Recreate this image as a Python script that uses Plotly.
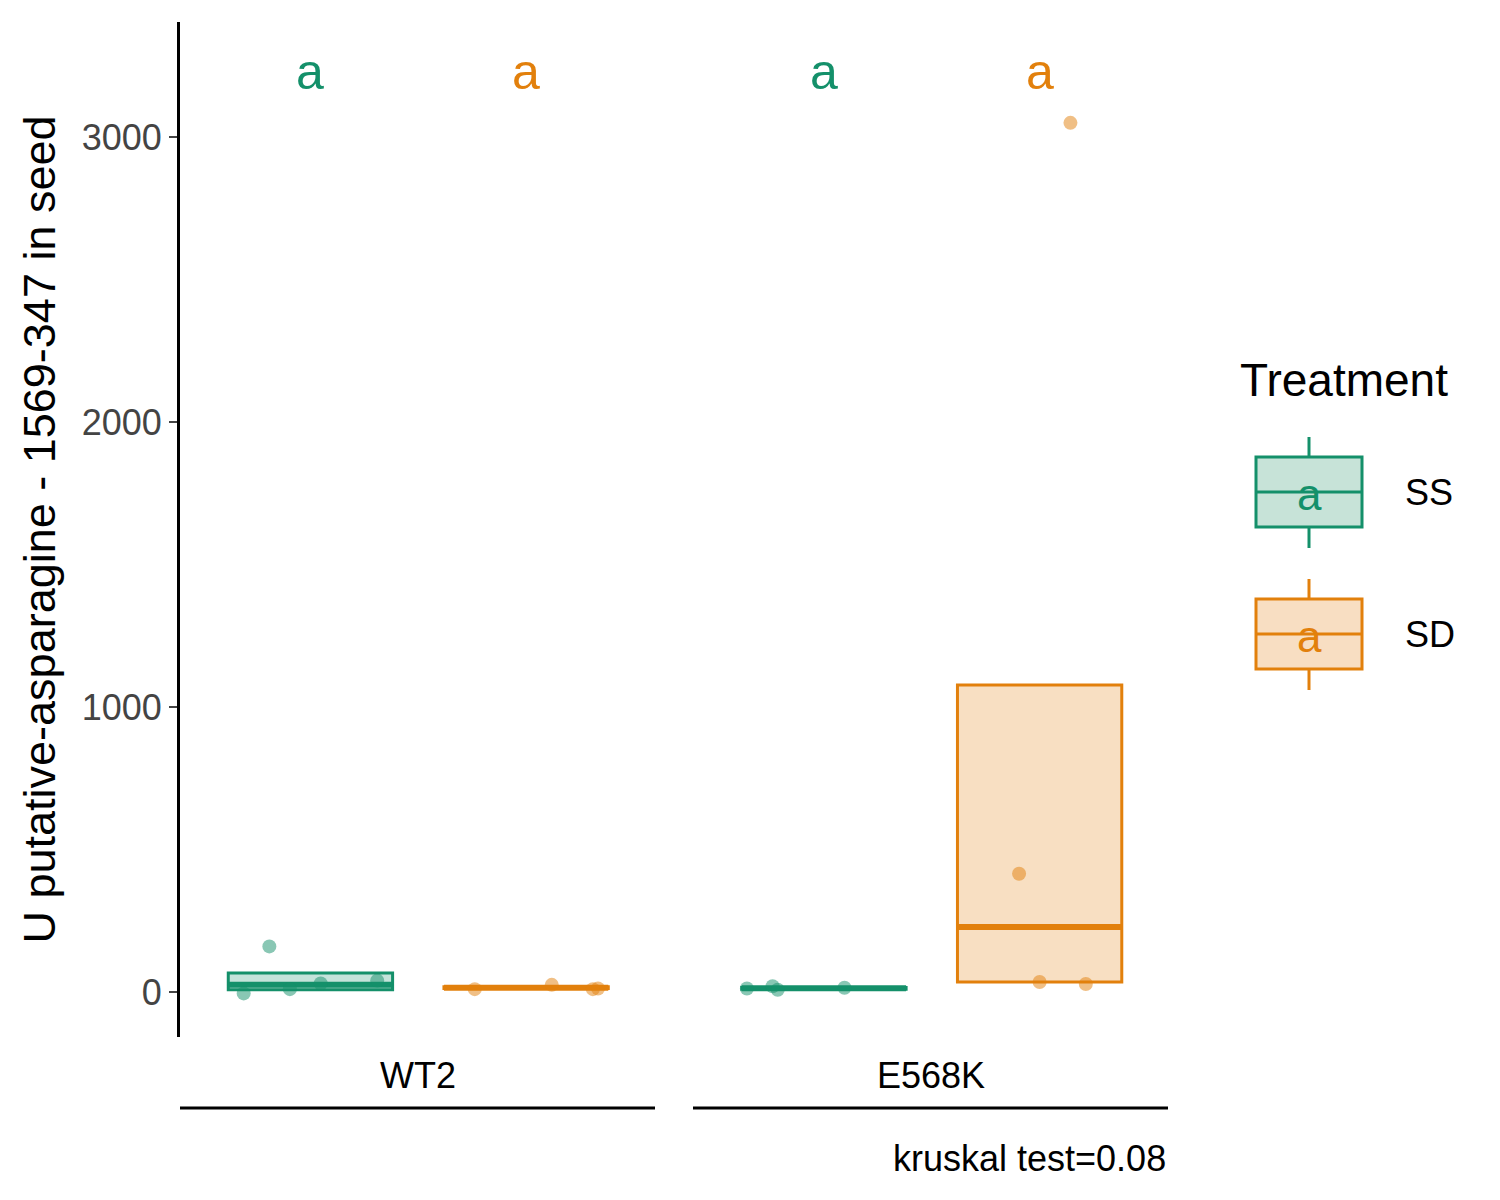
import plotly.graph_objects as go

groups = ["WT2", "E568K"]
treatments = ["SS", "SD"]
colors = {"SS": "#14906A", "SD": "#E2800C"}
fills = {"SS": "rgba(20,144,106,0.25)", "SD": "rgba(226,128,12,0.25)"}

# box stats per (group, treatment): q1, median, q3
box_q1 = {("WT2", "SS"): 8, ("WT2", "SD"): 12, ("E568K", "SS"): 10, ("E568K", "SD"): 35}
box_med = {("WT2", "SS"): 25, ("WT2", "SD"): 15, ("E568K", "SS"): 13, ("E568K", "SD"): 228}
box_q3 = {("WT2", "SS"): 67, ("WT2", "SD"): 18, ("E568K", "SS"): 16, ("E568K", "SD"): 1077}

# jittered points: x offset within box, value
pts = {
    ("WT2", "SS"): ([-0.08, 0.02, -0.13, -0.04, 0.13], [160, 30, -5, 10, 40]),
    ("WT2", "SD"): ([-0.1, 0.05, 0.13, 0.14], [10, 25, 10, 12]),
    ("E568K", "SS"): ([-0.15, -0.1, -0.09, 0.04], [12, 20, 8, 15]),
    ("E568K", "SD"): ([0.06, -0.04, 0.09, 0.0], [3050, 415, 28, 35]),
}

offsets = {"SS": -0.21, "SD": 0.21}
gpos = {"WT2": 1, "E568K": 2}
BW = 0.32

fig = go.Figure()
for g in groups:
    for t in treatments:
        x = gpos[g] + offsets[t]
        k = (g, t)
        fig.add_trace(go.Box(
            x=[x], q1=[box_q1[k]], median=[box_med[k]], q3=[box_q3[k]],
            lowerfence=[box_q1[k]], upperfence=[box_q3[k]],
            width=BW, line=dict(color=colors[t], width=3), fillcolor=fills[t],
            boxpoints=False, whiskerwidth=0, showlegend=False))
        fig.add_trace(go.Scatter(
            x=[x - BW / 2, x + BW / 2], y=[box_med[k], box_med[k]], mode="lines",
            line=dict(color=colors[t], width=6), showlegend=False))
        dx, vals = pts[k]
        fig.add_trace(go.Scatter(
            x=[x + d for d in dx], y=vals, mode="markers",
            marker=dict(color=colors[t], size=14, opacity=0.5),
            showlegend=False))
        fig.add_annotation(x=x, y=3228, text="a", showarrow=False,
                           font=dict(size=50, color=colors[t]))

fig.update_layout(
    width=1500, height=1200, plot_bgcolor="white", paper_bgcolor="white",
    margin=dict(l=172, r=340, t=14, b=171),
    font=dict(family="Liberation Sans, Arial", size=36, color="black"),
    xaxis=dict(range=[0.536, 2.46], showticklabels=False, showgrid=False,
               zeroline=False, showline=False),
    yaxis=dict(range=[-158, 3404], tickvals=[0, 1000, 2000, 3000], ticks="outside",
               ticklen=8, tickwidth=2, showline=True, linewidth=3, linecolor="black",
               showgrid=False, zeroline=False, tickfont=dict(size=36, color="#444"),
               title=dict(text="U putative-asparagine - 1569-347 in seed", font=dict(size=45),
                          standoff=12)),
)

def px(xp):
    return (xp - 180) / 988

def py(yp):
    return (1037 - yp) / 1015

# group labels and underlines
for g, (a, b) in zip(groups, [(180, 655), (693, 1168)]):
    fig.add_shape(type="line", xref="paper", yref="paper", x0=px(a), x1=px(b),
                  y0=py(1108), y1=py(1108), line=dict(color="black", width=3))
    fig.add_annotation(xref="paper", yref="paper", x=px((a + b) / 2), y=py(1075),
                       xanchor="center", yanchor="middle",
                       text=g, showarrow=False, font=dict(size=36))
fig.add_annotation(xref="paper", yref="paper", x=px(1168), y=py(1158), xanchor="right",
                   yanchor="middle", text="kruskal test=0.08", showarrow=False,
                   font=dict(size=36))

# legend
fig.add_annotation(xref="paper", yref="paper", x=px(1238), y=py(380), xanchor="left",
                   yanchor="middle", text="Treatment", showarrow=False, font=dict(size=46))
for t, top in zip(treatments, [457, 599]):
    c = colors[t]
    fig.add_shape(type="line", xref="paper", yref="paper", x0=px(1309), x1=px(1309),
                  y0=py(top - 20), y1=py(top + 91), line=dict(color=c, width=3))
    fig.add_shape(type="rect", xref="paper", yref="paper", x0=px(1256), x1=px(1362),
                  y0=py(top), y1=py(top + 70), line=dict(color=c, width=3),
                  fillcolor="rgb(199,227,216)" if t == "SS" else "rgb(248,222,194)")
    fig.add_shape(type="line", xref="paper", yref="paper", x0=px(1256), x1=px(1362),
                  y0=py(top + 35), y1=py(top + 35), line=dict(color=c, width=3))
    fig.add_annotation(xref="paper", yref="paper", x=px(1309), y=py(top + 37),
                       xanchor="center", yanchor="middle",
                       text="a", showarrow=False, font=dict(size=44, color=c))
    fig.add_annotation(xref="paper", yref="paper", x=px(1403), y=py(top + 35), xanchor="left",
                       yanchor="middle", text=t, showarrow=False, font=dict(size=36))

fig.write_html("out.html")
